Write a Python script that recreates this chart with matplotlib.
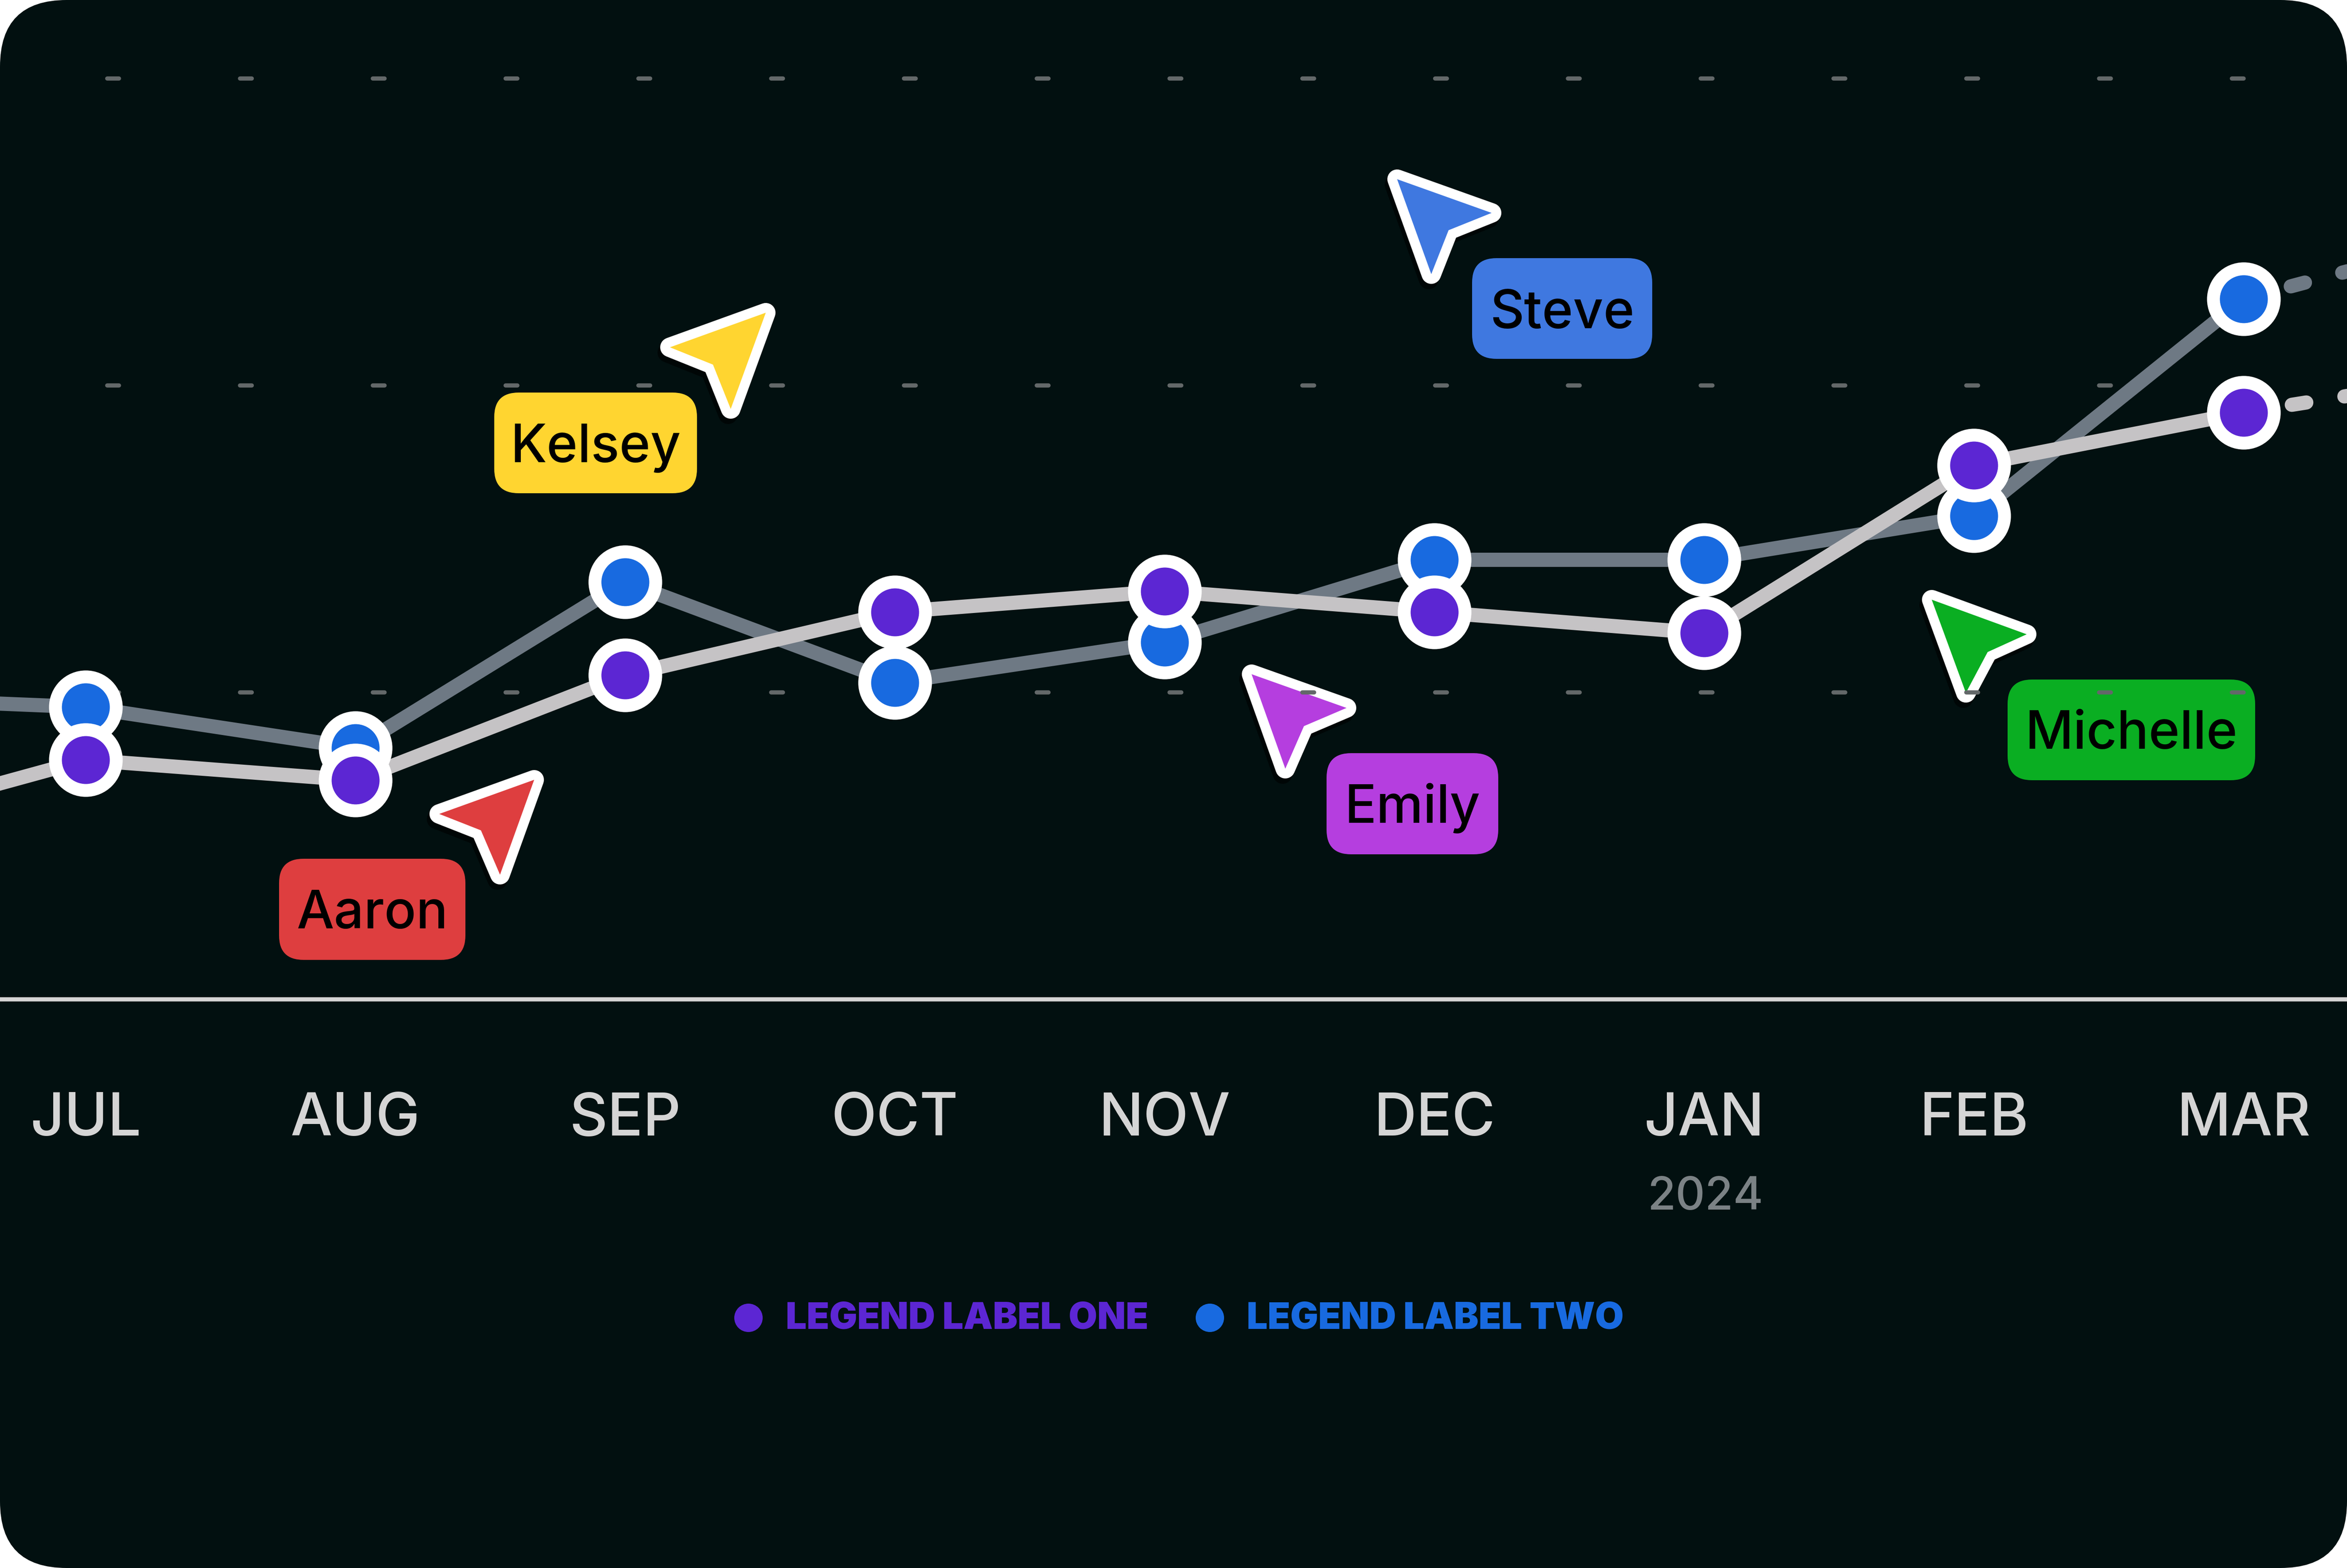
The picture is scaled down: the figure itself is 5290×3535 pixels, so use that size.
"""
Two series over months, on a dark card, with name tags and cursors
"""
import numpy as np
import matplotlib
matplotlib.use('Agg')
import matplotlib.pyplot as plt
from matplotlib.patches import FancyBboxPatch, Polygon, Circle

plt.rcParams['font.family'] = ['Inter', 'DejaVu Sans']
plt.rcParams['lines.scale_dashes'] = False

# chart data
months = ['JUL', 'AUG', 'SEP', 'OCT', 'NOV', 'DEC', 'JAN', 'FEB', 'MAR']
series_one = [78.0, 71.4, 105.6, 126.2, 133.0, 126.2, 119.3, 174.0, 191.2]
series_two = [95.2, 81.9, 136.0, 103.2, 116.4, 143.2, 143.2, 157.5, 228.2]
# values of the months just outside the card (line runs off both edges)
series_one_prev, series_one_next = 53.9, 205.2
series_two_prev, series_two_next = 98.8, 251.6
grid_values = [100, 200, 300]
legend_labels = ['LEGEND LABEL ONE', 'LEGEND LABEL TWO']
year_label = '2024'

# colours
CARD = '#021010'
LINE_ONE = '#C5C3C5'
LINE_TWO = '#6E7984'
DOT_ONE = '#5C26D3'
DOT_TWO = '#186AE0'
GRID = '#636869'
AXIS = '#D5D5D5'

W, H = 5290, 3535
DPI = 100


def px(n):
    # pixels of the output picture to points
    return n * 72 / DPI


fig = plt.figure(figsize=(W / DPI, H / DPI), dpi=DPI, facecolor='white')

# lower layer in picture pixels: card, tags, cursors, legend
deco = fig.add_axes([0, 0, 1, 1], zorder=0)
deco.set_xlim(0, W)
deco.set_ylim(H, 0)
deco.axis('off')

deco.add_patch(FancyBboxPatch((0, 0), W, H, boxstyle='round,pad=0,rounding_size=150',
                              fc=CARD, ec='none'))

tags = [
    ('Aaron', '#DE3E3F', (629, 1936, 420, 228), 2093,
     [(1204, 1758), (990, 1835), (1084, 1872), (1127, 1972)]),
    ('Kelsey', '#FFD530', (1114, 885, 457, 227), 1042,
     [(1726, 705), (1510, 783), (1607, 822), (1647, 922)]),
    ('Emily', '#B53EDF', (2990, 1698, 387, 228), 1855,
     [(2821, 1520), (3035, 1596), (2939, 1637), (2897, 1733)]),
    ('Steve', '#3F78E0', (3318, 582, 406, 227), 740,
     [(3149, 404), (3362, 480), (3265, 519), (3226, 618)]),
    ('Michelle', '#0AAE22', (4525, 1532, 558, 227), 1688,
     [(4354, 1352), (4568, 1430), (4480, 1470), (4431, 1562)]),
]
for name, color, (x0, y0, w, h), base, arrow in tags:
    deco.add_patch(FancyBboxPatch((x0, y0), w, h, boxstyle='round,pad=0,rounding_size=55',
                                  fc=color, ec='none'))
    deco.text(x0 + w / 2, base, name, ha='center', va='baseline', color='black',
              fontsize=px(119), fontweight=500)
    shadow = [(a - 6, b + 12) for a, b in arrow]
    deco.add_patch(Polygon(shadow, closed=True, fc='black', ec='black', lw=px(44),
                           joinstyle='round', alpha=0.6))
    deco.add_patch(Polygon(arrow, closed=True, fc='white', ec='white', lw=px(44),
                           joinstyle='round'))
    deco.add_patch(Polygon(arrow, closed=True, fc=color, ec='none'))

deco.text(3844, 2727, year_label, ha='center', va='baseline', color='#7B8285',
          fontsize=px(103), fontweight=500)

# legend
for label, color, dot_x, text_x in zip(legend_labels, [DOT_ONE, DOT_TWO],
                                       [1687, 2727], [1771, 2810]):
    deco.add_patch(Circle((dot_x, 2971), 32, fc=color, ec='none'))
    deco.text(text_x, 2995, label, ha='left', va='baseline', color=color,
              fontsize=px(83.5), fontweight=900)

# chart layer, month index on x and value on y
ax = fig.add_axes([0, 0, 1, 1], zorder=1, facecolor='none')
ax.set_xlim(-193 / 608, (W - 193) / 608)
ax.set_ylim(-(H - 2253) / 6.92, 2253 / 6.92)

x = np.arange(len(months))

ax.set_yticks(grid_values)
ax.set_axisbelow(True)
ax.grid(axis='y', color=GRID, lw=px(9.5), dash_capstyle='round',
        linestyle=(px(57.6), (px(26.5), px(272.8))))
ax.grid(axis='x', visible=False)

ax.plot(np.r_[-1, x], np.r_[series_two_prev, series_two], color=LINE_TWO, lw=px(32),
        solid_joinstyle='miter')
ax.plot(np.r_[-1, x], np.r_[series_one_prev, series_one], color=LINE_ONE, lw=px(32),
        solid_joinstyle='miter')

dash = (px(10), (px(33), px(87)))
ax.plot([x[-1], x[-1] + 1], [series_two[-1], series_two_next], color=LINE_TWO, lw=px(32),
        linestyle=dash, dash_capstyle='round')
ax.plot([x[-1], x[-1] + 1], [series_one[-1], series_one_next], color=LINE_ONE, lw=px(32),
        linestyle=dash, dash_capstyle='round')

ax.plot(x, series_two, 'o', ms=px(137), mfc=DOT_TWO, mec='white', mew=px(29))
ax.plot(x, series_one, 'o', ms=px(137), mfc=DOT_ONE, mec='white', mew=px(29))

for side in ['top', 'left', 'right']:
    ax.spines[side].set_visible(False)
ax.spines['bottom'].set_position(('data', 0))
ax.spines['bottom'].set_color(AXIS)
ax.spines['bottom'].set_linewidth(px(9.5))

ax.set_xticks(x)
ax.set_xticklabels(months, fontweight=500)
ax.tick_params(axis='x', length=0, pad=px(210), labelsize=px(133), labelcolor=AXIS)
ax.tick_params(axis='y', length=0, labelleft=False)

fig.savefig('out.png', dpi=DPI, facecolor=fig.get_facecolor())
